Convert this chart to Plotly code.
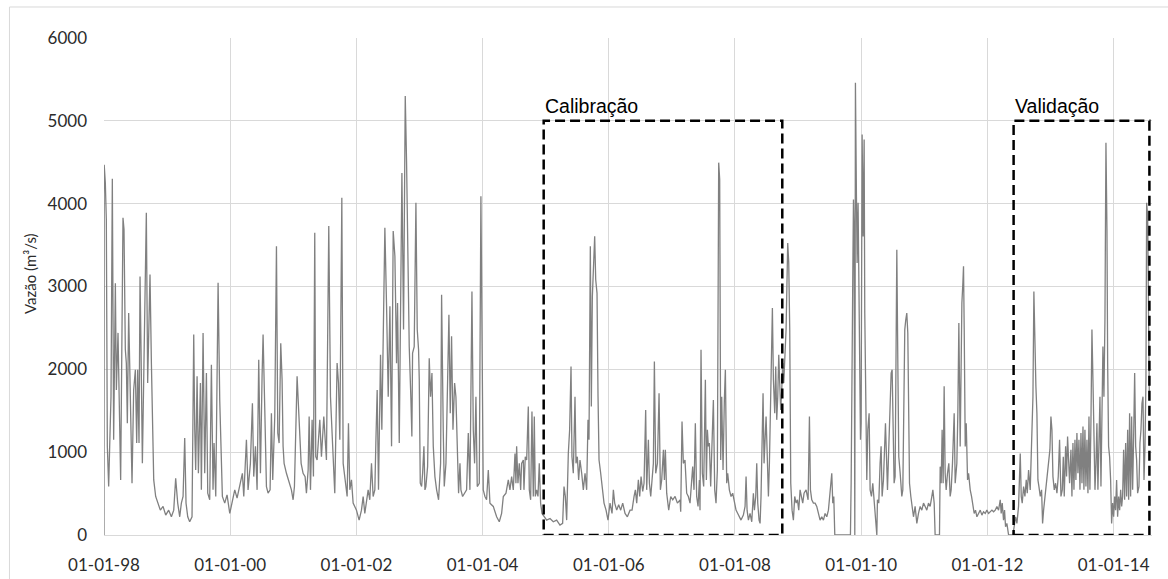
import numpy as np
import pandas as pd
import plotly.graph_objects as go

# Time of each reading, in decimal years
t_years = [
    1998.000, 1998.003, 1998.021, 1998.037, 1998.053, 1998.074, 1998.090, 1998.111, 1998.132, 1998.153,
    1998.180, 1998.196, 1998.222, 1998.238, 1998.264, 1998.301, 1998.317, 1998.338, 1998.354, 1998.370,
    1998.391, 1998.407, 1998.444, 1998.470, 1998.497, 1998.518, 1998.534, 1998.555, 1998.571, 1998.587,
    1998.608, 1998.634, 1998.671, 1998.692, 1998.729, 1998.751, 1998.766, 1998.788, 1998.819, 1998.856,
    1998.893, 1998.936, 1998.978, 1999.025, 1999.068, 1999.105, 1999.136, 1999.168, 1999.200, 1999.226,
    1999.253, 1999.279, 1999.300, 1999.327, 1999.358, 1999.395, 1999.422, 1999.438, 1999.453, 1999.475,
    1999.496, 1999.528, 1999.543, 1999.570, 1999.596, 1999.623, 1999.644, 1999.675, 1999.702, 1999.728,
    1999.744, 1999.771, 1999.808, 1999.834, 1999.855, 1999.876, 1999.913, 1999.950, 1999.993, 2000.035,
    2000.072, 2000.109, 2000.151, 2000.193, 2000.215, 2000.257, 2000.283, 2000.320, 2000.352, 2000.373,
    2000.400, 2000.426, 2000.452, 2000.479, 2000.505, 2000.521, 2000.548, 2000.574, 2000.600, 2000.632,
    2000.653, 2000.674, 2000.706, 2000.733, 2000.754, 2000.775, 2000.801, 2000.822, 2000.838, 2000.854,
    2000.891, 2000.933, 2000.970, 2000.997, 2001.018, 2001.060, 2001.081, 2001.102, 2001.124, 2001.155,
    2001.187, 2001.208, 2001.235, 2001.251, 2001.272, 2001.298, 2001.319, 2001.340, 2001.356, 2001.377,
    2001.420, 2001.446, 2001.483, 2001.525, 2001.562, 2001.589, 2001.631, 2001.657, 2001.694, 2001.716,
    2001.737, 2001.769, 2001.790, 2001.816, 2001.853, 2001.874, 2001.895, 2001.922, 2001.948, 2002.001,
    2002.043, 2002.080, 2002.107, 2002.133, 2002.160, 2002.186, 2002.212, 2002.239, 2002.265, 2002.292,
    2002.308, 2002.329, 2002.350, 2002.382, 2002.403, 2002.424,
    2002.451, 2002.478, 2002.504, 2002.531, 2002.557, 2002.583, 2002.610, 2002.636, 2002.652, 2002.679,
    2002.705, 2002.721, 2002.747, 2002.774, 2002.795, 2002.816, 2002.837, 2002.864, 2002.879, 2002.890,
    2002.916, 2002.943, 2002.964, 2002.985, 2002.996, 2003.012, 2003.033, 2003.049, 2003.070, 2003.086,
    2003.101, 2003.128, 2003.154, 2003.175, 2003.197, 2003.218, 2003.244, 2003.271, 2003.302, 2003.334,
    2003.350, 2003.376, 2003.392, 2003.419, 2003.445, 2003.466, 2003.487, 2003.508, 2003.530, 2003.556,
    2003.577, 2003.598, 2003.619, 2003.641, 2003.656, 2003.683, 2003.714, 2003.746, 2003.773, 2003.799,
    2003.831, 2003.852, 2003.873, 2003.894, 2003.915, 2003.947, 2003.973, 2003.995, 2004.010, 2004.037,
    2004.063, 2004.090, 2004.116, 2004.169, 2004.222, 2004.264, 2004.301, 2004.328, 2004.370, 2004.407,
    2004.433, 2004.460, 2004.486, 2004.513, 2004.528, 2004.539, 2004.560, 2004.581, 2004.603, 2004.618,
    2004.645, 2004.655, 2004.676, 2004.698, 2004.724, 2004.740, 2004.761, 2004.782, 2004.803, 2004.819,
    2004.835, 2004.856, 2004.877, 2004.898, 2004.919, 2004.941, 2004.962, 2005.015, 2005.068, 2005.120,
    2005.173, 2005.226, 2005.268, 2005.290, 2005.311, 2005.332, 2005.358, 2005.379, 2005.401, 2005.416,
    2005.437, 2005.464, 2005.480, 2005.501, 2005.522, 2005.543, 2005.570, 2005.596, 2005.623, 2005.649,
    2005.670, 2005.686, 2005.707, 2005.723, 2005.739, 2005.760, 2005.776, 2005.792, 2005.813, 2005.829,
    2005.845, 2005.871, 2005.897, 2005.924, 2005.956, 2005.987, 2006.019, 2006.051, 2006.072, 2006.093,
    2006.125, 2006.156, 2006.188, 2006.220, 2006.257, 2006.294, 2006.336, 2006.368, 2006.400, 2006.421,
    2006.442, 2006.468, 2006.489, 2006.511, 2006.537, 2006.558, 2006.584, 2006.600, 2006.627, 2006.643,
    2006.664, 2006.685, 2006.706, 2006.722, 2006.743, 2006.770, 2006.796, 2006.817, 2006.838, 2006.865,
    2006.881, 2006.896, 2006.917, 2006.949, 2006.981, 2007.013, 2007.050, 2007.087, 2007.129,
    2007.139, 2007.160, 2007.181, 2007.207, 2007.234, 2007.260, 2007.287, 2007.329, 2007.350, 2007.371,
    2007.392, 2007.414, 2007.435, 2007.445, 2007.461, 2007.482, 2007.503, 2007.530, 2007.546, 2007.562,
    2007.577, 2007.593, 2007.614, 2007.636, 2007.657, 2007.678, 2007.699, 2007.720, 2007.741, 2007.757,
    2007.773, 2007.789, 2007.810, 2007.831, 2007.847, 2007.868, 2007.884, 2007.910, 2007.937, 2007.963,
    2007.990, 2008.016, 2008.043, 2008.069, 2008.095, 2008.132, 2008.159, 2008.175, 2008.191, 2008.212,
    2008.238, 2008.265, 2008.291, 2008.307, 2008.328, 2008.344, 2008.360, 2008.381, 2008.397, 2008.412,
    2008.428, 2008.444, 2008.460, 2008.476, 2008.492, 2008.508, 2008.529, 2008.545, 2008.560, 2008.576,
    2008.592, 2008.608, 2008.629, 2008.645, 2008.661, 2008.677, 2008.693, 2008.708, 2008.724, 2008.740,
    2008.756, 2008.772, 2008.788, 2008.809, 2008.835, 2008.851, 2008.867, 2008.883, 2008.904, 2008.925,
    2008.946, 2008.968, 2008.989, 2009.010, 2009.031, 2009.052, 2009.073, 2009.094, 2009.126, 2009.158,
    2009.179, 2009.195, 2009.216, 2009.242, 2009.269, 2009.295, 2009.322, 2009.348, 2009.374, 2009.401,
    2009.427, 2009.454, 2009.480, 2009.507, 2009.533, 2009.549, 2009.565, 2009.581, 2009.829, 2009.840,
    2009.855, 2009.866, 2009.877, 2009.887, 2009.898, 2009.908, 2009.924, 2009.935, 2009.950, 2009.961,
    2009.977, 2009.988, 2009.998, 2010.014, 2010.030, 2010.046, 2010.056, 2010.072, 2010.088, 2010.104,
    2010.125, 2010.141, 2010.162, 2010.183, 2010.199, 2010.220, 2010.247, 2010.257, 2010.278, 2010.299,
    2010.315, 2010.331, 2010.352, 2010.384, 2010.400, 2010.416, 2010.437, 2010.458, 2010.474, 2010.490,
    2010.505, 2010.521, 2010.537, 2010.564, 2010.580, 2010.595, 2010.617, 2010.643, 2010.659, 2010.675,
    2010.690, 2010.706, 2010.722, 2010.738, 2010.749, 2010.765, 2010.786, 2010.807, 2010.828, 2010.854,
    2010.881, 2010.907, 2010.934, 2010.960, 2010.987, 2011.013, 2011.039, 2011.066, 2011.092, 2011.119,
    2011.135, 2011.156, 2011.171, 2011.240, 2011.251, 2011.267, 2011.282, 2011.298, 2011.314, 2011.330,
    2011.346, 2011.367, 2011.388, 2011.409, 2011.425, 2011.446, 2011.473, 2011.489, 2011.515, 2011.531,
    2011.547, 2011.568,
    2011.579, 2011.595, 2011.611, 2011.621, 2011.632, 2011.648, 2011.664, 2011.685, 2011.701, 2011.716,
    2011.727, 2011.748, 2011.769, 2011.790, 2011.811, 2011.833, 2011.859, 2011.886, 2011.912, 2011.938,
    2011.965, 2011.991, 2012.018, 2012.044, 2012.071, 2012.097, 2012.123, 2012.150, 2012.176, 2012.203,
    2012.218, 2012.234, 2012.255, 2012.271, 2012.287, 2012.308, 2012.335, 2012.404, 2012.425, 2012.446,
    2012.467, 2012.493, 2012.520, 2012.536, 2012.551, 2012.573, 2012.594, 2012.615, 2012.631, 2012.652,
    2012.678, 2012.699, 2012.721, 2012.736, 2012.752, 2012.768, 2012.784, 2012.800, 2012.816, 2012.837,
    2012.858, 2012.874, 2012.890, 2012.911, 2012.927, 2012.948, 2012.969, 2012.990, 2013.006, 2013.022,
    2013.038, 2013.059, 2013.080, 2013.101, 2013.122, 2013.143, 2013.165, 2013.186, 2013.202, 2013.217,
    2013.239, 2013.254, 2013.270, 2013.286, 2013.302, 2013.323, 2013.339, 2013.355, 2013.371, 2013.387,
    2013.402, 2013.418, 2013.434, 2013.450, 2013.466, 2013.482, 2013.498, 2013.514, 2013.529, 2013.545,
    2013.561, 2013.577, 2013.593, 2013.609, 2013.624, 2013.640, 2013.656, 2013.672, 2013.688, 2013.704,
    2013.720, 2013.735, 2013.751, 2013.767, 2013.783, 2013.799, 2013.815, 2013.830, 2013.846, 2013.862,
    2013.878, 2013.894, 2013.905, 2013.920, 2013.936, 2013.952, 2013.968, 2013.984, 2014.000, 2014.016,
    2014.031, 2014.047, 2014.063, 2014.079, 2014.095, 2014.111, 2014.127, 2014.142, 2014.158, 2014.174,
    2014.190, 2014.206, 2014.222, 2014.238, 2014.253, 2014.269, 2014.285, 2014.301, 2014.317, 2014.333,
    2014.349, 2014.364, 2014.380, 2014.401, 2014.417, 2014.433, 2014.449, 2014.465, 2014.481, 2014.497,
    2014.512, 2014.523, 2014.539, 2014.555, 2014.565,
]

# Discharge (m3/s) at each reading
flow = [
    0, 4470, 4250, 3810, 1070, 585, 1070, 1670, 4300, 1150,
    3040, 1750, 2440, 1750, 665, 3830, 3690, 2240, 2075, 1350,
    2680, 2075, 625, 1750, 1995, 1110, 1995, 1110, 3120, 2240,
    865, 2115, 3890, 1835, 3145, 2075, 1550, 665, 465, 385,
    300, 345, 240, 300, 220, 300, 685, 385, 220, 385,
    465, 1170, 385, 220, 160, 220, 2420, 1270, 785, 1915,
    745, 1835, 545, 2440, 745, 1955, 505, 425, 2055, 545,
    1110, 465, 3045, 1630, 1110, 465, 385, 485, 260, 425,
    545, 445, 585, 745, 465, 1150, 545, 865, 1590, 705,
    1070, 545, 2115, 745, 1915, 2420, 1510, 585, 505, 545,
    1470, 665, 1430, 3485, 1230, 1110, 2315, 1875, 1070, 865,
    745, 625, 545, 425, 585, 1915, 1550, 1270, 865, 745,
    705, 505, 785, 1430, 545, 1390, 705, 3650, 945, 905,
    1390, 945, 1430, 905, 3730, 1670, 865, 505, 2075, 1835,
    1150, 4070, 865, 665, 465, 1350, 545, 665, 385, 300,
    180, 300, 465, 260, 385, 545, 425, 865, 465, 545,
    1110, 1750, 545, 2175, 1270, 2195,
    3710, 2760, 1670, 2760, 1070, 3670, 3365, 2075, 2800, 1110,
    2880, 4370, 2480, 5300, 4495, 3125, 2275, 1630, 1190, 2195,
    2275, 4010, 2480, 2235, 1875, 625, 585, 745, 1070, 545,
    585, 825, 2135, 1670, 1955, 1070, 705, 545, 425, 865,
    2900, 1270, 585, 865, 1750, 2660, 1470, 2400, 1270, 1835,
    1670, 865, 505, 865, 545, 465, 505, 545, 1230, 545,
    2940, 1270, 865, 1670, 585, 625, 4090, 2075, 545, 465,
    425, 785, 385, 345, 220, 160, 260, 465, 505, 665,
    545, 705, 545, 985, 625, 1070, 625, 865, 545, 865,
    905, 545, 945, 905, 1550, 545, 425, 1490, 465, 1430,
    465, 545, 465, 865, 385, 260, 240, 180, 200, 160,
    180, 120, 140, 585, 465, 180, 985, 1270, 2035, 945,
    745, 1670, 865, 945, 665, 905, 745, 545, 745, 545,
    1390, 1150, 3485, 1550, 2880, 3285, 3605, 3085, 2920, 1670,
    905, 745, 545, 385, 300, 180, 385, 260, 545, 385,
    300, 365, 300, 385, 260, 220, 300, 300, 465, 545,
    385, 665, 465, 705, 525, 625, 1510, 545, 1150, 625,
    465, 705, 865, 2095, 745, 865, 1710, 545, 665, 1030,
    665, 1030, 505, 300, 465, 425, 465, 385, 425,
    280, 1370, 865, 905, 505, 465, 385, 825, 545, 1350,
    465, 345, 665, 300, 2235, 745, 585, 1875, 665, 1270,
    1070, 1110, 585, 1030, 1630, 545, 385, 785, 4495, 4290,
    905, 1670, 785, 1630, 1995, 625, 745, 545, 465, 505,
    385, 300, 260, 220, 180, 240, 345, 705, 300, 180,
    260, 160, 505, 300, 465, 865, 385, 180, 140, 465,
    1070, 1710, 865, 1270, 1430, 1030, 465, 865, 1510, 2400,
    2740, 1875, 1470, 2035, 1390, 1670, 2175, 1835, 1510, 1750,
    2075, 1835, 2235, 2480, 3525, 3285, 2480, 625, 300, 180,
    465, 385, 425, 300, 545, 465, 385, 505, 545, 425,
    1430, 545, 425, 385, 385, 345, 260, 180, 220, 180,
    260, 220, 300, 545, 745, 385, 465, 0, 0, 625,
    3045, 3125, 4050, 3690, 0, 5460, 4090, 3285, 4010, 3165,
    2480, 1150, 1350, 4835, 3605, 4775, 2680, 1150, 665, 1270,
    1470, 545, 465, 625, 465, 300, 0, 425, 385, 865,
    1070, 465, 665, 1350, 865, 545, 1070, 1590, 1955, 1995,
    1070, 625, 705, 3445, 2075, 945, 745, 465, 545, 1670,
    2480, 2600, 2680, 2440, 1470, 625, 465, 300, 220, 345,
    140, 260, 345, 300, 385, 345, 300, 385, 345, 465,
    545, 385, 0, 0, 825, 625, 1270, 625, 1795, 745,
    545, 745, 865, 465, 545, 865, 1470, 625, 865, 1470,
    2560, 1070,
    2235, 2800, 3045, 3245, 2480, 1070, 1350, 665, 745, 625,
    545, 465, 345, 260, 300, 220, 260, 300, 240, 280,
    260, 300, 260, 280, 300, 280, 300, 345, 300, 425,
    260, 385, 180, 300, 100, 140, 0, 0, 100, 220,
    140, 345, 985, 465, 385, 585, 465, 665, 505, 785,
    545, 1070, 1670, 2940, 2075, 1795, 1470, 665, 585, 465,
    545, 140, 300, 465, 545, 665, 865, 1030, 1430, 1270,
    705, 545, 625, 505, 705, 1150, 465, 545, 945, 465,
    1070, 705, 1190, 865, 625, 1030, 465, 1110, 545, 1150,
    665, 1230, 745, 1150, 545, 1230, 625, 1310, 545, 1270,
    585, 1150, 505, 1430, 545, 1350, 2480, 1875, 865, 545,
    865, 1350, 545, 1070, 1670, 585, 1590, 2275, 1670, 2600,
    4735, 3685, 2075, 1070, 945, 665, 140, 385, 220, 465,
    300, 665, 220, 465, 300, 545, 345, 465, 1030, 425,
    1110, 465, 1270, 425, 1470, 465, 1430, 545, 1190, 1955,
    1070, 905, 505, 585, 1110, 1270, 1590, 1670, 665, 1070,
    1875, 4010, 3850, 2880, 1670,
]

# Tick labels / axis setup
y_tick_values = [0, 1000, 2000, 3000, 4000, 5000, 6000]
x_range = ["1998-01-01", "2014-08-11"]
x_tick_start = "1998-01-01"

# Highlighted periods (dashed boxes)
calib_period = ["2004-12-20", "2008-10-01"]
valid_period = ["2012-06-01", "2014-07-27"]
box_top = 5000
calib_label = "Calibração"
valid_label = "Validação"
y_title = "Vazão (m³/s)"

assert len(t_years) == len(flow), (len(t_years), len(flow))

t_arr = np.array(t_years)
dates = pd.Timestamp("1998-01-01") + pd.to_timedelta((t_arr - 1998.0) * 365.25, unit="D")

fig = go.Figure()
fig.add_trace(go.Scatter(
    x=dates, y=flow, mode="lines",
    line=dict(color="#808080", width=1.3),
    showlegend=False, hoverinfo="skip",
))

tick_font = dict(family="Lato, 'Open Sans', sans-serif", size=17, color="#2b2b2b")
grid_col = "#d9d9d9"

fig.update_layout(
    width=1168, height=579,
    margin=dict(l=104, r=16, t=38, b=44, autoexpand=False),
    paper_bgcolor="white", plot_bgcolor="white",
    xaxis=dict(
        type="date", range=x_range, tick0=x_tick_start, dtick="M24",
        tickformat="%d-%m-%y", showgrid=True, gridcolor=grid_col, gridwidth=1,
        showline=True, linecolor=grid_col, linewidth=1, zeroline=False,
        ticks="", tickfont=tick_font, ticklabelstandoff=15, automargin=False,
    ),
    yaxis=dict(
        range=[0, 6000], tickvals=y_tick_values, tickformat="d",
        showgrid=True, gridcolor=grid_col, gridwidth=1,
        zeroline=False, showline=False, ticks="",
        tickfont=tick_font, ticklabelstandoff=16, automargin=False,
    ),
)

box_line = dict(color="black", width=2.5, dash="10px,5px")
for period in (calib_period, valid_period):
    fig.add_shape(type="rect", xref="x", yref="y",
                  x0=period[0], x1=period[1], y0=0, y1=box_top,
                  line=box_line, fillcolor="rgba(0,0,0,0)", layer="above")

label_font = dict(family="Liberation Sans, Arial, sans-serif", size=19.5, color="black")
for period, label in ((calib_period, calib_label), (valid_period, valid_label)):
    fig.add_annotation(x=period[0], y=box_top, xref="x", yref="y", text=label,
                       showarrow=False, xanchor="left", yanchor="bottom",
                       font=label_font, yshift=2, xshift=-1)

fig.add_annotation(x=-0.0706, y=0.525, xref="paper", yref="paper", text=y_title,
                   showarrow=False, textangle=-90, xanchor="center", yanchor="middle",
                   font=dict(family="Lato, 'Open Sans', sans-serif", size=15, color="#2b2b2b"))

# chart-area border (top and left edges visible)
border = dict(color=grid_col, width=1)
fig.add_shape(type="line", xref="paper", yref="paper", x0=-0.0902, x1=1.2, y0=1.0624, y1=1.0624, line=border)
fig.add_shape(type="line", xref="paper", yref="paper", x0=-0.0902, x1=-0.0902, y0=1.0624, y1=-0.2, line=border)

fig.write_html("out.html")
